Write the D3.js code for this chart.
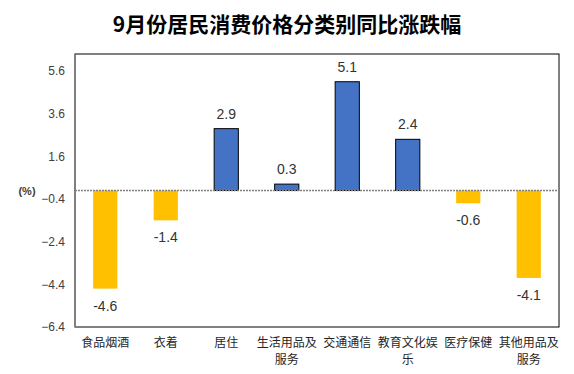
<!DOCTYPE html>
<html>
<head>
<meta charset="utf-8">
<script src="https://cdn.jsdelivr.net/npm/d3@7"></script>
<style>
  body { margin: 0; background: #fff; }
  text { font-family: "Liberation Sans", "Noto Sans CJK SC", sans-serif; }
</style>
</head>
<body>
<svg width="574" height="374"></svg>
<script>
const categories = ["食品烟酒", "衣着", "居住", "生活用品及服务", "交通通信", "教育文化娱乐", "医疗保健", "其他用品及服务"];
const values = [-4.6, -1.4, 2.9, 0.3, 5.1, 2.4, -0.6, -4.1];
const tickValues = [-6.4, -4.4, -2.4, -0.4, 1.6, 3.6, 5.6];

const svg = d3.select("svg");
const margin = {top: 54, right: 15, bottom: 47, left: 75},
      width = +svg.attr("width") - margin.left - margin.right,
      height = +svg.attr("height") - margin.top - margin.bottom;

svg.append("text")
    .attr("x", 287)
    .attr("y", 32)
    .attr("text-anchor", "middle")
    .style("font-family", "'Noto Sans CJK SC', sans-serif")
    .style("font-size", "21px")
    .style("font-weight", "bold")
    .attr("fill", "#000")
    .text("9月份居民消费价格分类别同比涨跌幅");

const g = svg.append("g").attr("transform", `translate(${margin.left},${margin.top})`);

const x = d3.scaleBand().domain(categories).range([0, width]).paddingInner(0.6).paddingOuter(0.3);
const y = d3.scaleLinear().domain([-6.4, 6.4]).range([height, 0]);

// plot border
g.append("rect")
    .attr("width", width)
    .attr("height", height)
    .attr("fill", "none")
    .attr("stroke", "#000")
    .attr("stroke-width", 1);

// y axis
const yAxis = g.append("g")
    .call(d3.axisLeft(y).tickValues(tickValues).tickSize(0).tickPadding(10).tickFormat(d3.format(".1f")));
yAxis.select(".domain").attr("stroke", "#808080");
yAxis.selectAll("text")
    .style("font-size", "12px")
    .attr("fill", "#404040");

svg.append("text")
    .attr("x", 27)
    .attr("y", 195)
    .attr("text-anchor", "middle")
    .style("font-size", "11px")
    .style("font-weight", "bold")
    .attr("fill", "#404040")
    .text("(%)");

// bars
g.selectAll(".bar")
    .data(values)
    .enter().append("rect")
    .attr("class", "bar")
    .attr("x", (d, i) => x(categories[i]))
    .attr("width", x.bandwidth())
    .attr("y", d => d >= 0 ? y(d) : y(0))
    .attr("height", d => Math.abs(y(d) - y(0)))
    .attr("fill", d => d >= 0 ? "#4472C4" : "#FFC000")
    .attr("stroke", d => d >= 0 ? "#000" : "none")
    .attr("stroke-width", 1);

// zero line
g.append("line")
    .attr("x1", 0)
    .attr("x2", width)
    .attr("y1", y(0))
    .attr("y2", y(0))
    .attr("stroke", "#808080")
    .attr("stroke-width", 1.5)
    .attr("stroke-dasharray", "2,1");

// value labels
g.selectAll(".val")
    .data(values)
    .enter().append("text")
    .attr("class", "val")
    .attr("x", (d, i) => x(categories[i]) + x.bandwidth() / 2)
    .attr("y", d => d >= 0 ? y(d) - 10 : y(d) + 22)
    .attr("text-anchor", "middle")
    .style("font-size", "14px")
    .attr("fill", "#333")
    .text(d => d.toFixed(1));

// category labels, wrapped at 5 chars
const labels = g.selectAll(".cat")
    .data(categories)
    .enter().append("text")
    .attr("class", "cat")
    .attr("text-anchor", "middle")
    .style("font-family", "'Noto Sans CJK SC', sans-serif")
    .style("font-size", "12px")
    .attr("fill", "#262626");

labels.each(function(d) {
    const lines = [];
    for (let i = 0; i < d.length; i += 5) lines.push(d.slice(i, i + 5));
    const t = d3.select(this);
    lines.forEach((s, k) => {
        t.append("tspan")
            .attr("x", x(d) + x.bandwidth() / 2)
            .attr("y", height + 20 + k * 17)
            .text(s);
    });
});
</script>
</body>
</html>
